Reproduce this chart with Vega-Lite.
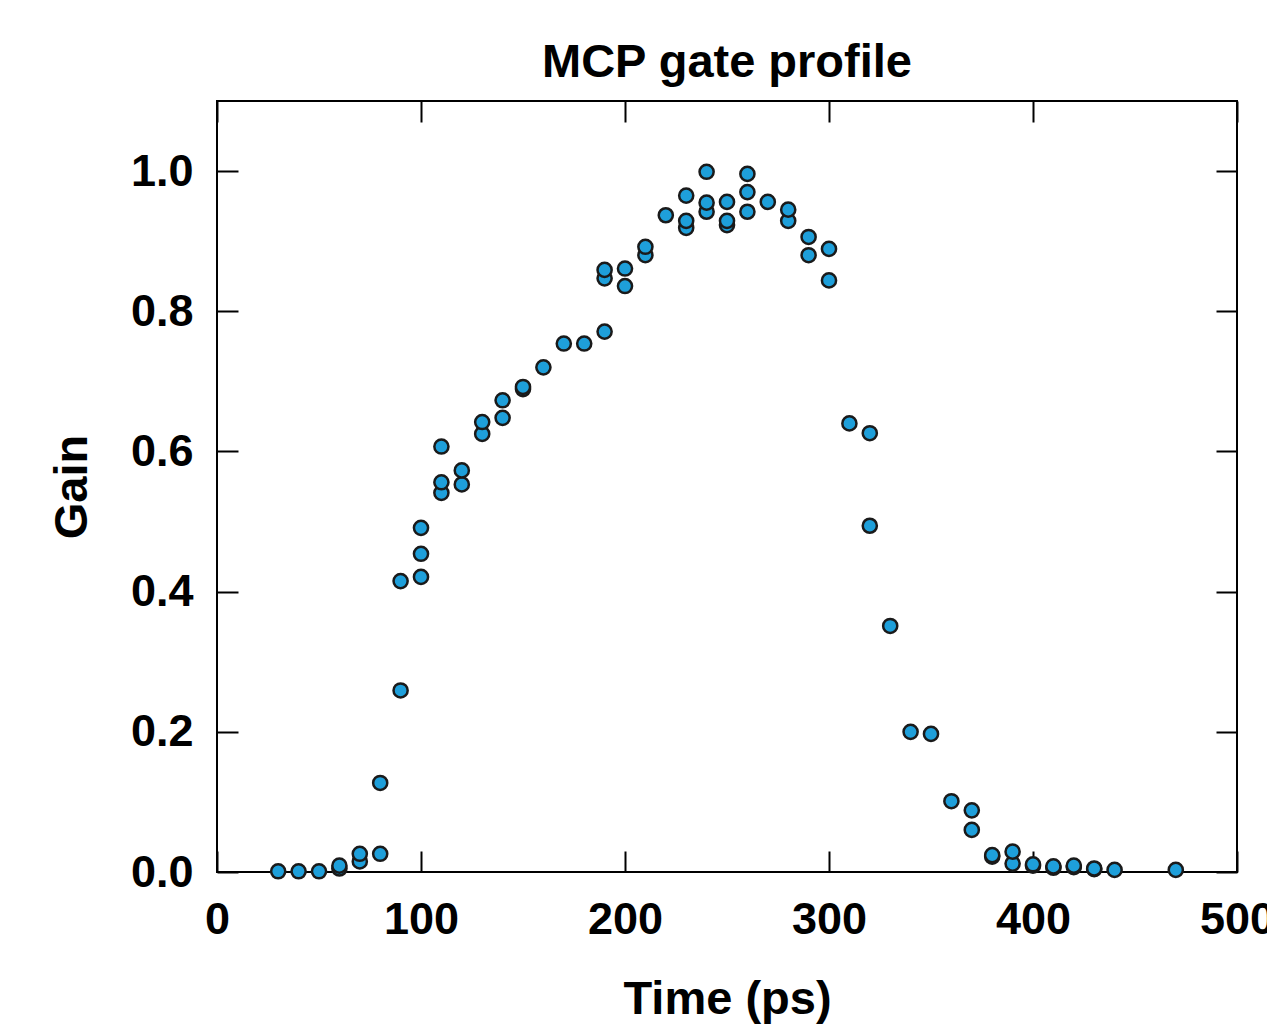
{
  "$schema": "https://vega.github.io/schema/vega-lite/v6.json",
  "width": 1020,
  "height": 771,
  "autosize": {"type": "none"},
  "padding": {"left": 217, "top": 101, "right": 30, "bottom": 152},
  "background": "white",
  "title": {"text": "MCP gate profile", "font": "Liberation Sans", "fontSize": 47, "fontWeight": "bold", "color": "black", "offset": -24, "baseline": "alphabetic", "anchor": "middle"},
  "config": {
    "view": {"stroke": "black", "strokeWidth": 2},
    "axis": {
      "domain": false, "grid": false, "tickColor": "black", "tickWidth": 2,
      "labelFont": "Liberation Sans", "labelFontSize": 45, "labelFontWeight": "bold", "labelColor": "black",
      "titleFont": "Liberation Sans", "titleFontSize": 47, "titleFontWeight": "bold", "titleColor": "black",
      "labelFlush": false, "labelOverlap": false
    }
  },
  "data": {"values": [
    {"t": 30, "g": 0.001}, {"t": 40, "g": 0.001}, {"t": 50, "g": 0.001},
    {"t": 60, "g": 0.005}, {"t": 60, "g": 0.009},
    {"t": 70, "g": 0.015}, {"t": 70, "g": 0.026},
    {"t": 80, "g": 0.026}, {"t": 80, "g": 0.127},
    {"t": 90, "g": 0.259}, {"t": 90, "g": 0.415},
    {"t": 100, "g": 0.421}, {"t": 100, "g": 0.454}, {"t": 100, "g": 0.491},
    {"t": 110, "g": 0.541}, {"t": 110, "g": 0.556}, {"t": 110, "g": 0.607},
    {"t": 120, "g": 0.553}, {"t": 120, "g": 0.573},
    {"t": 130, "g": 0.625}, {"t": 130, "g": 0.642},
    {"t": 140, "g": 0.648}, {"t": 140, "g": 0.673},
    {"t": 150, "g": 0.689}, {"t": 150, "g": 0.692},
    {"t": 160, "g": 0.72},
    {"t": 170, "g": 0.754},
    {"t": 180, "g": 0.754},
    {"t": 190, "g": 0.771}, {"t": 190, "g": 0.847}, {"t": 190, "g": 0.859},
    {"t": 200, "g": 0.836}, {"t": 200, "g": 0.861},
    {"t": 210, "g": 0.88}, {"t": 210, "g": 0.892},
    {"t": 220, "g": 0.937},
    {"t": 230, "g": 0.919}, {"t": 230, "g": 0.929}, {"t": 230, "g": 0.965},
    {"t": 240, "g": 0.942}, {"t": 240, "g": 0.955}, {"t": 240, "g": 0.999},
    {"t": 250, "g": 0.923}, {"t": 250, "g": 0.929}, {"t": 250, "g": 0.956},
    {"t": 260, "g": 0.942}, {"t": 260, "g": 0.97}, {"t": 260, "g": 0.996},
    {"t": 270, "g": 0.956},
    {"t": 280, "g": 0.929}, {"t": 280, "g": 0.945},
    {"t": 290, "g": 0.88}, {"t": 290, "g": 0.906},
    {"t": 300, "g": 0.844}, {"t": 300, "g": 0.889},
    {"t": 310, "g": 0.64},
    {"t": 320, "g": 0.494}, {"t": 320, "g": 0.626},
    {"t": 330, "g": 0.351},
    {"t": 340, "g": 0.2},
    {"t": 350, "g": 0.197},
    {"t": 360, "g": 0.101},
    {"t": 370, "g": 0.06}, {"t": 370, "g": 0.088},
    {"t": 380, "g": 0.022}, {"t": 380, "g": 0.024},
    {"t": 390, "g": 0.012}, {"t": 390, "g": 0.029},
    {"t": 400, "g": 0.009}, {"t": 400, "g": 0.011},
    {"t": 410, "g": 0.006}, {"t": 410, "g": 0.008},
    {"t": 420, "g": 0.007}, {"t": 420, "g": 0.009},
    {"t": 430, "g": 0.004}, {"t": 430, "g": 0.005},
    {"t": 440, "g": 0.003},
    {"t": 470, "g": 0.003}
  ]},
  "layer": [
    {
      "mark": {"type": "point", "opacity": 0},
      "encoding": {
        "x": {"field": "t", "type": "quantitative", "scale": {"domain": [0, 500], "nice": false},
              "axis": {"orient": "bottom", "values": [0, 100, 200, 300, 400, 500], "tickSize": -21, "labelPadding": 46,
                       "title": "Time (ps)", "titleBaseline": "alphabetic", "titleY": 141}},
        "y": {"field": "g", "type": "quantitative", "scale": {"domain": [0, 1.1], "nice": false},
              "axis": {"orient": "left", "values": [0, 0.2, 0.4, 0.6, 0.8, 1.0], "format": ".1f", "tickSize": -21, "labelPadding": 45,
                       "title": "Gain", "titleBaseline": "alphabetic", "titleX": -131}}
      }
    },
    {
      "mark": {"type": "circle", "size": 200, "fill": "#1e9fda", "stroke": "#1a1a1a", "strokeWidth": 2.5, "fillOpacity": 1, "strokeOpacity": 1},
      "encoding": {
        "x": {"field": "t", "type": "quantitative", "scale": {"domain": [0, 500], "nice": false},
              "axis": {"orient": "top", "values": [0, 100, 200, 300, 400, 500], "tickSize": -21, "labels": false, "title": null}},
        "y": {"field": "g", "type": "quantitative", "scale": {"domain": [0, 1.1], "nice": false},
              "axis": {"orient": "right", "values": [0, 0.2, 0.4, 0.6, 0.8, 1.0], "tickSize": -21, "labels": false, "title": null}}
      }
    }
  ],
  "resolve": {"scale": {"x": "independent", "y": "independent"}}
}
